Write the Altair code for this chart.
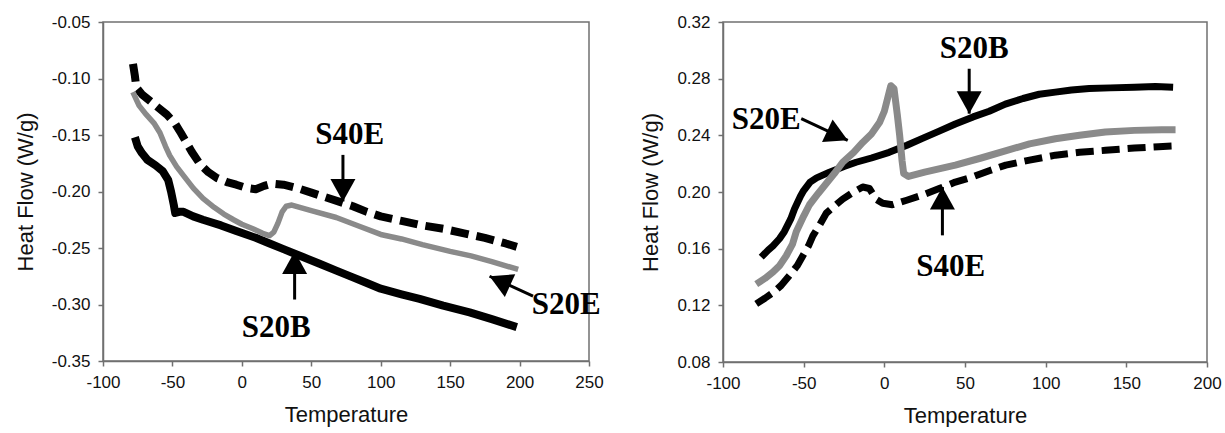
import math
import altair as alt
import pandas as pd

# ---------------- Left panel (first DSC run) ----------------
L_S40E_T = [-78.4, -77, -76, -72, -64, -54, -48, -44, -36, -30, -24, -18, -10, -4, 4, 10, 16, 22, 30, 40,
            50, 60, 70, 80, 90, 100, 115, 130, 145, 160, 175, 190, 198]
L_S40E_H = [-0.087, -0.098, -0.108, -0.114, -0.122, -0.132, -0.140, -0.148, -0.165, -0.176, -0.183, -0.188,
            -0.192, -0.194, -0.197, -0.198, -0.195, -0.193, -0.194, -0.197, -0.201, -0.205, -0.209, -0.213,
            -0.218, -0.222, -0.226, -0.230, -0.233, -0.237, -0.241, -0.246, -0.249]

L_S20E_T = [-78.5, -74, -68.8, -63, -59, -55, -52, -47, -42, -35, -28, -20, -13, -6, 0, 8, 15, 20, 23, 26,
            29, 32, 36, 50, 68, 85, 100, 115, 130, 150, 165, 180, 199]
L_S20E_H = [-0.112, -0.124, -0.132, -0.140, -0.148, -0.160, -0.168, -0.178, -0.186, -0.197, -0.206, -0.214,
            -0.220, -0.225, -0.229, -0.233, -0.237, -0.239, -0.236, -0.228, -0.218, -0.213, -0.212, -0.217,
            -0.223, -0.231, -0.238, -0.242, -0.247, -0.253, -0.257, -0.262, -0.269]

L_S20B_T = [-77, -75, -72, -68, -62, -57, -53, -51, -49, -48, -45, -42, -35, -28, -15, -4, 10, 20, 30, 44,
            56, 68, 80, 90, 100, 115, 128, 145, 164, 180, 198]
L_S20B_H = [-0.152, -0.160, -0.166, -0.172, -0.177, -0.182, -0.190, -0.200, -0.212, -0.219, -0.218, -0.218,
            -0.222, -0.225, -0.230, -0.235, -0.241, -0.246, -0.251, -0.258, -0.264, -0.270, -0.276, -0.281,
            -0.286, -0.291, -0.295, -0.301, -0.307, -0.313, -0.320]

L_XTICKS = [-100, -50, 0, 50, 100, 150, 200, 250]
L_YTICKS = [-0.35, -0.30, -0.25, -0.20, -0.15, -0.10, -0.05]

# annotation labels: (text, x, y)
L_LABELS = [("S40E", 77.6, -0.150), ("S20B", 24.8, -0.3206), ("S20E", 233.6, -0.300)]
# arrows: (tail x, tail y, tip x, tip y)
L_ARROWS = [(72.8, -0.1676, 72.8, -0.2088), (38.0, -0.2956, 38.0, -0.2530), (209.7, -0.2926, 178.4, -0.2750)]

# ---------------- Right panel (second DSC run) ----------------
R_S20B_T = [-76.3, -72, -69, -65, -62, -58, -55.7, -52, -50, -46, -42, -34, -25, -17.5, -8, 3, 14, 24, 34, 44,
            55, 65, 75, 86, 96, 106, 116, 127, 140, 155, 168, 179]
R_S20B_H = [0.154, 0.159, 0.162, 0.167, 0.172, 0.181, 0.188, 0.197, 0.201, 0.207, 0.210, 0.214, 0.218, 0.221,
            0.224, 0.228, 0.233, 0.238, 0.243, 0.248, 0.253, 0.257, 0.262, 0.266, 0.269, 0.2705, 0.272, 0.273,
            0.2735, 0.274, 0.2745, 0.274]

R_S20E_T = [-79.4, -74, -69, -65, -60.8, -57, -54.6, -50, -46.4, -41, -36, -31, -25.8, -19, -13.4, -8, -3, 0, 2,
            4, 6, 8, 9.5, 11, 12, 15, 25, 44, 60, 75, 90, 106, 121, 137, 155, 172, 180.5]
R_S20E_H = [0.135, 0.139, 0.1435, 0.148, 0.155, 0.163, 0.172, 0.183, 0.191, 0.199, 0.206, 0.213, 0.221, 0.228,
            0.235, 0.241, 0.249, 0.257, 0.266, 0.275, 0.273, 0.255, 0.240, 0.222, 0.213, 0.211, 0.214, 0.219,
            0.224, 0.229, 0.234, 0.2376, 0.240, 0.2424, 0.2435, 0.244, 0.244]

R_S40E_T = [-79.4, -74, -69, -64, -58.8, -54, -50.5, -47, -44.3, -40, -36, -31, -25.8, -19, -13.4, -9.3, -5.2,
            -1, 5, 13.4, 24, 34, 44, 54.6, 65, 75.3, 90, 106, 121, 137, 155, 170, 180.4]
R_S40E_H = [0.121, 0.125, 0.129, 0.134, 0.141, 0.148, 0.155, 0.162, 0.169, 0.177, 0.185, 0.190, 0.195, 0.200,
            0.2035, 0.2025, 0.195, 0.192, 0.191, 0.194, 0.198, 0.2024, 0.207, 0.2106, 0.215, 0.219, 0.2225,
            0.226, 0.228, 0.2294, 0.231, 0.232, 0.2325]

R_XTICKS = [-100, -50, 0, 50, 100, 150, 200]
R_YTICKS = [0.08, 0.12, 0.16, 0.20, 0.24, 0.28, 0.32]

R_LABELS = [("S20B", 55.7, 0.3007), ("S40E", 41.2, 0.147), ("S20E", -73.2, 0.2506)]
R_ARROWS = [(52.6, 0.287, 52.6, 0.2553), (36.0, 0.1694, 36.0, 0.2035), (-51.5, 0.2518, -22.7, 0.2365)]

MINUS = "\u2212"
HEAD = "M0,0L-1,1.8L1,1.8Z"


def panel(series, xdom, ydom, xticks, yticks, labels, arrows, w, h):
    kx = w / (xdom[1] - xdom[0])
    ky = h / (ydom[1] - ydom[0])
    xs = alt.Scale(domain=xdom, nice=False, zero=False)
    ys = alt.Scale(domain=ydom, nice=False, zero=False)
    xax = alt.Axis(values=xticks, title="Temperature",
                   labelExpr=f"replace(format(datum.value, 'd'), '{MINUS}', '-')")
    yax = alt.Axis(values=yticks, title="Heat Flow (W/g)",
                   labelExpr=f"replace(format(datum.value, '.2f'), '{MINUS}', '-')")
    X = alt.X("T:Q", scale=xs, axis=xax)
    Y = alt.Y("H:Q", scale=ys, axis=yax)

    layers = []
    for T, H, color, width, dash in series:
        df = pd.DataFrame({"T": T, "H": H})
        kw = dict(color=color, strokeWidth=width, strokeCap="butt", strokeJoin="round")
        if dash:
            kw["strokeDash"] = dash
        layers.append(alt.Chart(df).mark_line(**kw).encode(x=X, y=Y))

    adf = pd.DataFrame({
        "T": [a[0] for a in arrows], "H": [a[1] for a in arrows],
        "T2": [a[2] for a in arrows], "H2": [a[3] for a in arrows],
    })
    layers.append(alt.Chart(adf).mark_rule(color="black", strokeWidth=3).encode(
        x=X, y=Y, x2="T2:Q", y2="H2:Q"))

    angles = []
    for a in arrows:
        dx = (a[2] - a[0]) * kx
        dy = -(a[3] - a[1]) * ky
        angles.append(math.degrees(math.atan2(dx, -dy)) % 360)
    hdf = pd.DataFrame({"T": [a[2] for a in arrows], "H": [a[3] for a in arrows], "ang": angles})
    layers.append(alt.Chart(hdf).mark_point(shape=HEAD, filled=True, color="black", opacity=1,
                                            size=625, strokeWidth=0).encode(
        x=X, y=Y, angle=alt.Angle("ang:Q", scale=None)))

    tdf = pd.DataFrame({"lab": [l[0] for l in labels], "T": [l[1] for l in labels], "H": [l[2] for l in labels]})
    layers.append(alt.Chart(tdf).mark_text(font="Liberation Serif", fontWeight="bold", fontSize=31,
                                           color="black", align="center", baseline="middle").encode(
        x=X, y=Y, text="lab:N"))
    return alt.layer(*layers).properties(width=w, height=h)


GRAY = "#8a8a8a"
left = panel([
    (L_S20B_T, L_S20B_H, "black", 8, None),
    (L_S40E_T, L_S40E_H, "black", 8, [18, 8]),
    (L_S20E_T, L_S20E_H, GRAY, 5.5, None),
], [-100, 250], [-0.35, -0.05], L_XTICKS, L_YTICKS, L_LABELS, L_ARROWS, 486, 339)

right = panel([
    (R_S20B_T, R_S20B_H, "black", 7, None),
    (R_S40E_T, R_S40E_H, "black", 7, [18, 8]),
    (R_S20E_T, R_S20E_H, GRAY, 7, None),
], [-100, 200], [0.08, 0.32], R_XTICKS, R_YTICKS, R_LABELS, R_ARROWS, 484, 340)

chart = alt.hconcat(left, right, spacing=134, bounds="flush").properties(
    padding={"left": 13, "top": 12, "right": 3, "bottom": 0},
    autosize=alt.AutoSizeParams(type="pad"),
    background="white",
).configure_view(
    stroke="#707070", strokeWidth=1.5
).configure_axis(
    grid=False,
    domainColor="#707070", domainWidth=1.5,
    tickColor="#707070", tickWidth=1.5, tickSize=5,
    labelFont="Liberation Sans", labelFontSize=17, labelColor="#111111",
    labelFlush=False, labelOverlap=False, labelPadding=8,
    titleFont="Liberation Sans", titleFontSize=22, titleFontWeight="normal", titleColor="#111111",
    titlePadding=14,
)

chart.save("out.html", embed_options={"renderer": "svg", "actions": False})
